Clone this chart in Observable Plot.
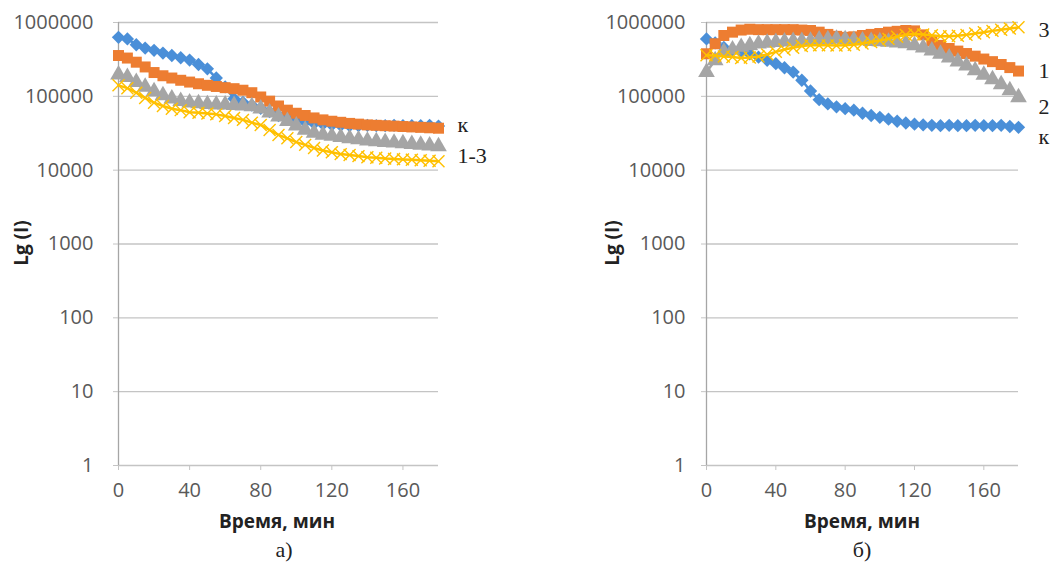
<!DOCTYPE html>
<html>
<head>
<meta charset="utf-8">
<script src="https://cdn.jsdelivr.net/npm/d3@7"></script>
<script src="https://cdn.jsdelivr.net/npm/@observablehq/plot@0.6"></script>
<style>
  body { margin: 0; background: #fff; }
  #wrap { position: relative; width: 1051px; height: 570px; overflow: hidden; background: #fff; }
  #wrap svg { position: absolute; top: 0; }
  .ttl { position: absolute; font-family: "Open Sans", sans-serif; font-weight: bold; font-size: 19px; color: #222; white-space: nowrap; }
  .ytl { transform: translate(-50%, -50%) rotate(-90deg); }
  .xtl { transform: translateX(-50%); }
  .sub { position: absolute; font-family: "Liberation Serif", serif; font-size: 22px; color: #222; transform: translateX(-50%); }
</style>
</head>
<body>
<div id="wrap">
  <div class="ttl ytl" style="left:21px; top:243px;">Lg (I)</div>
  <div class="ttl ytl" style="left:612px; top:243px;">Lg (I)</div>
  <div class="ttl xtl" style="left:277px; top:508px;">Время, мин</div>
  <div class="ttl xtl" style="left:862px; top:508px;">Время, мин</div>
  <div class="sub" style="left:284px; top:537px;">а)</div>
  <div class="sub" style="left:862px; top:537px;">б)</div>
</div>
<script>
// Time points (min)
const time = [0,5,10,15,20,25,30,35,40,45,50,55,60,65,70,75,80,85,90,95,100,105,110,115,120,125,130,135,140,145,150,155,160,165,170,175,180];
const xTicks = [0,40,80,120,160];
const yTicks = [1,10,100,1000,10000,100000,1000000];

// Panel а)
const kA = [630000,600000,500000,450000,420000,385000,357000,333000,310000,270000,236000,177000,134000,93000,83000,76000,69000,62000,55000,50000,47000,45000,43000,42000,41000,40500,40000,40000,40500,40000,40000,40500,40000,40000,40000,40500,39500];
const s1A = [357000,330000,290000,250000,210000,190000,177000,165000,156000,148000,141000,136000,131000,127000,121000,112000,98000,86000,74000,65000,59000,55000,51000,48000,46000,44500,43000,42000,41000,40500,40000,39500,39000,38500,38000,37500,37000];
const s2A = [196000,182000,156000,134000,117000,103000,93000,86000,82000,80000,78000,77000,77000,76000,75000,73000,68000,60000,53000,46000,40000,35000,32000,30000,29000,28000,27000,26000,25000,24500,24000,23500,23000,22500,22000,21500,21000];
const s3A = [141000,129000,112000,95000,82000,74000,68000,65000,61000,60000,58600,57000,54000,51000,48000,44000,41000,35000,30000,27000,24000,22000,20000,18500,17500,16500,16000,15500,15000,14700,14400,14200,14000,13800,13600,13400,13200];

// Panel б)
const kB = [600000,530000,460000,430000,400000,377000,340000,307000,277000,244000,213000,165000,118000,90000,79000,72000,68000,65000,59000,55000,52000,49000,46000,43500,42000,41000,40500,40000,40500,40000,40000,40500,40000,40000,40500,39000,38000];
const s1B = [377000,515000,667000,740000,790000,810000,800000,800000,800000,800000,800000,790000,780000,740000,690000,650000,630000,640000,667000,690000,710000,740000,760000,780000,770000,680000,560000,490000,445000,410000,380000,350000,320000,295000,270000,245000,220000];
const s2B = [213000,307000,400000,430000,465000,490000,515000,530000,540000,550000,560000,560000,565000,585000,590000,600000,590000,575000,570000,560000,555000,545000,535000,520000,490000,455000,415000,375000,335000,295000,260000,225000,195000,170000,145000,120000,97000];
const s3B = [360000,357000,347000,340000,330000,335000,347000,370000,400000,430000,455000,480000,490000,490000,490000,488000,490000,500000,520000,545000,570000,600000,640000,680000,700000,690000,670000,650000,650000,660000,680000,710000,740000,770000,800000,830000,860000];

const seriesNames = ["к","1","2","3"];
const colors = ["#4a8fd8","#ed7d31","#a5a5a5","#ffc000"];
const symbols = ["diamond2","square","triangle","times"];

function seriesMarks(valuesList) {
  const marks = [];
  valuesList.forEach((vals, i) => {
    const data = vals.map((v, j) => ({t: time[j], v}));
    marks.push(Plot.line(data, {x: "t", y: "v", stroke: colors[i], strokeWidth: 2.5}));
    if (symbols[i] === "times") {
      marks.push(Plot.dot(data, {x: "t", y: "v", symbol: "times", stroke: colors[i], strokeWidth: 1.4, r: 5.5, fill: "none"}));
    } else {
      const r = symbols[i] === "square" ? 6.2 : (symbols[i] === "triangle" ? 6.2 : 6);
      marks.push(Plot.dot(data, {x: "t", y: "v", symbol: symbols[i], fill: colors[i], stroke: "none", r}));
    }
  });
  return marks;
}

function labelMarks(labels, ldx) {
  return labels.map(l => Plot.text([l], {x: () => 180, y: "y", text: "text", dx: ldx, dy: l.dy, textAnchor: "start", lineAnchor: "middle", fontFamily: "Liberation Serif", fontSize: 22, fill: "#222"}));
}

function panel(opts) {
  return Plot.plot({
    width: opts.width, height: 570,
    marginLeft: opts.ml, marginRight: opts.mr, marginTop: 22, marginBottom: 105,
    x: {domain: [0, 180]},
    y: {type: "log", domain: [1, 1000000]},
    style: {fontFamily: "Open Sans", fontSize: "20px", color: "#595959", background: "transparent", overflow: "visible"},
    marks: [
      Plot.ruleY(yTicks, {stroke: "#c4c4c4", strokeWidth: 1.3}),
      Plot.ruleX([0], {stroke: "#a6a6a6", strokeWidth: 1.3}),
      Plot.axisY(yTicks, {tickSize: 5, tickPadding: opts.tp, tickFormat: d => String(d), stroke: "#c4c4c4", fill: "#595959", label: null}),
      Plot.axisX(xTicks, {tickSize: 5, tickPadding: 12, stroke: "#c4c4c4", fill: "#595959", label: null}),
      ...seriesMarks(opts.series),
      ...labelMarks(opts.labels, opts.ldx)
    ]
  });
}

const last = a => a[a.length - 1];
const labelsA = [
  {text: "к", y: last(kA), dy: -1},
  {text: "1-3", y: Math.sqrt(last(s2A) * last(s3A)), dy: 2}
];
const labelsB = [
  {text: "3", y: last(s3B), dy: 3},
  {text: "1", y: last(s1B), dy: 0},
  {text: "2", y: last(s2B), dy: 10},
  {text: "к", y: last(kB), dy: 10}
];

const wrap = document.getElementById("wrap");
const left = panel({width: 525, ml: 118, mr: 87, tp: 20, series: [kA, s1A, s2A, s3A], labels: labelsA, ldx: 19});
left.style.left = "0px";
wrap.appendChild(left);
const right = panel({width: 526, ml: 181, mr: 33, tp: 16, series: [kB, s1B, s2B, s3B], labels: labelsB, ldx: 20});
right.style.left = "525px";
wrap.appendChild(right);
</script>
</body>
</html>
